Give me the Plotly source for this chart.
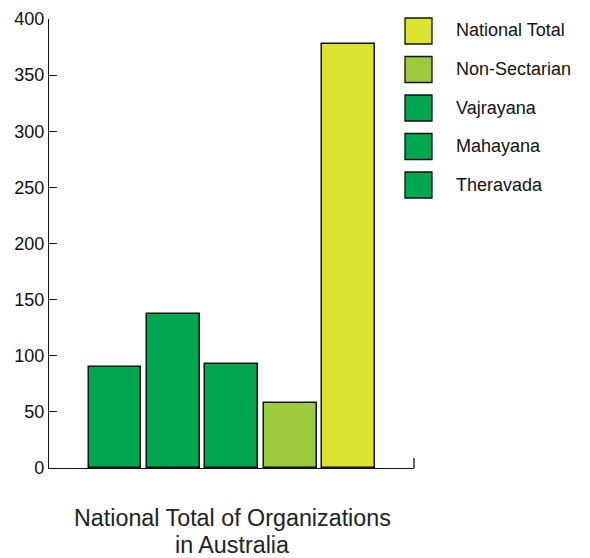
import plotly.graph_objects as go

# Data
categories = ["Theravada", "Mahayana", "Vajrayana", "Non-Sectarian", "National Total"]
values = [90, 137, 93, 58, 378]
colors = ["#00A650", "#00A650", "#00A650", "#9BCB3C", "#DEE231"]
legend_order = ["National Total", "Non-Sectarian", "Vajrayana", "Mahayana", "Theravada"]
y_ticks = [0, 50, 100, 150, 200, 250, 300, 350, 400]
x_title_lines = ["National Total of Organizations", "in Australia"]

# page offset (body margin) compensation
OFF = 8
W, H = 590 - OFF, 558 - OFF
PL, PR, PT, PB = 49, 414, 19, 468  # plot box in page pixels
L = PL - OFF
T = PT - OFF
plot_w = PR - PL
plot_h = PB - PT
R = W - L - plot_w
B = H - T - plot_h

def px_x(p):
    return (p - PL) / plot_w

def px_y(p):
    return (PB - p) / plot_h

fig = go.Figure()
fig.add_trace(go.Bar(
    x=list(range(len(categories))),
    y=values,
    marker=dict(color=colors, line=dict(color="#111111", width=1.5)),
    width=0.905,
    showlegend=False,
    hovertext=categories,
))

font_family = "Liberation Sans, Arial, sans-serif"

shapes = []
annotations = []
color_map = dict(zip(categories, colors))
for i, name in enumerate(legend_order):
    top = 18 + i * 38.5
    shapes.append(dict(
        type="rect", xref="paper", yref="paper",
        x0=px_x(405), x1=px_x(432), y0=px_y(top + 26), y1=px_y(top),
        fillcolor=color_map[name], line=dict(color="#111111", width=1.3),
    ))
    annotations.append(dict(
        text=name, xref="paper", yref="paper", x=px_x(454), y=px_y(top + 12.5),
        xanchor="left", yanchor="middle", showarrow=False,
        font=dict(size=18, color="#111111", family=font_family),
    ))

# right end tick of x axis
shapes.append(dict(type="line", xref="paper", yref="paper",
                   x0=1, x1=1, y0=0, y1=px_y(458),
                   line=dict(color="#111111", width=1.3)))

for j, line in enumerate(x_title_lines):
    annotations.append(dict(
        text=line, xref="paper", yref="paper", x=px_x(232), y=px_y(518 + j * 27),
        xanchor="center", yanchor="middle", showarrow=False,
        font=dict(size=23.3, color="#222222", family=font_family),
    ))

fig.update_layout(
    width=W, height=H,
    margin=dict(l=L, r=R, t=T, b=B, pad=0, autoexpand=False),
    paper_bgcolor="white", plot_bgcolor="white",
    font=dict(family=font_family, color="#111111"),
    shapes=shapes, annotations=annotations,
    bargap=0,
    xaxis=dict(range=[-1.13, 5.12], showticklabels=False, ticks="",
               showgrid=False, zeroline=False, showline=True,
               linecolor="#111111", linewidth=1.3, fixedrange=True,
               automargin=False),
    yaxis=dict(range=[0, 400], tickvals=y_ticks, ticks="inside", ticklen=8,
               tickcolor="#111111", tickwidth=1.2,
               showgrid=False, zeroline=False, showline=True,
               linecolor="#111111", linewidth=1.3,
               tickfont=dict(size=18, color="#111111", family=font_family),
               fixedrange=True, automargin=False),
)

fig.write_html("out.html")
